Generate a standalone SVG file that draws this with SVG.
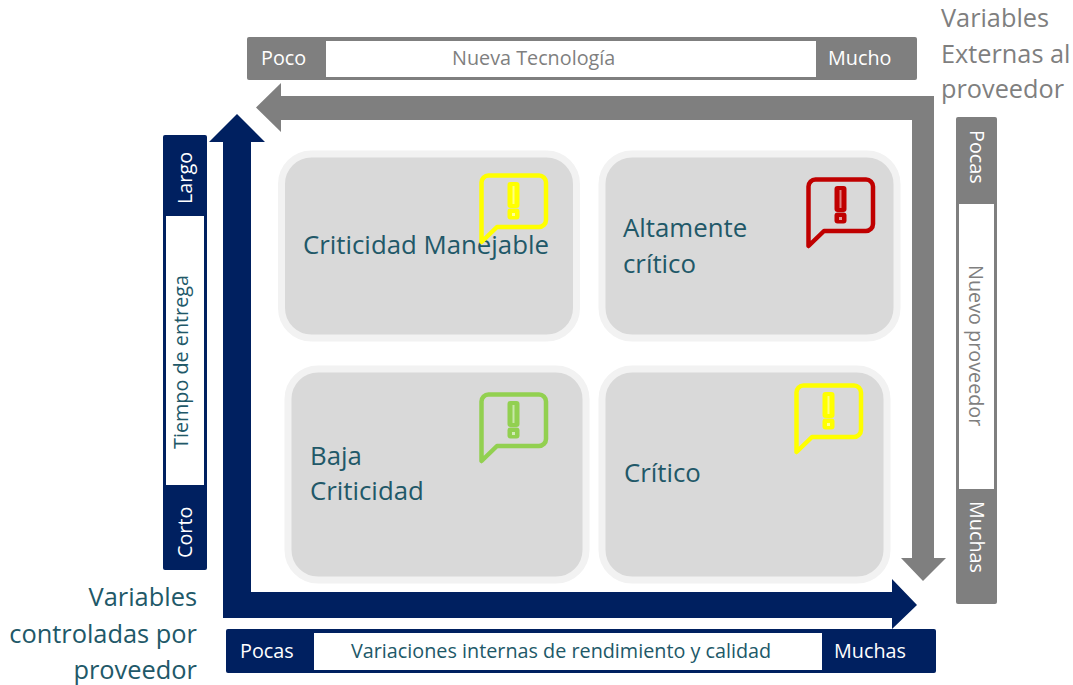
<svg xmlns="http://www.w3.org/2000/svg" width="1073" height="685" viewBox="0 0 1073 685">
<style>
text{font-family:"Open Sans","Noto Sans","Liberation Sans",sans-serif}
.navy{fill:#002060}
.gray{fill:#7f7f7f}
.white{fill:#fff}
.lab{fill:#fff;font-size:19.800px}
.dark{fill:#7f7f7f;font-size:19.800px}
.teal{fill:#215868;font-size:19.800px}
.big{font-size:25.800px;fill:#215868}
.bigl{font-size:25.400px;fill:#215868}
.biggray{font-size:25.300px;fill:#7f7f7f}
.card{fill:#d9d9d9;stroke:#f2f2f2;stroke-width:7}
.ib{fill:none;stroke:currentColor;stroke-width:4.500;stroke-linejoin:round}
.ic{fill:currentColor}
</style>
<defs>
<g id="bubble">
<path class="ib" d="M489 175.500H539a7 7 0 0 1 7 7V220a7 7 0 0 1-7 7H497L481.500 242V182.500a7 7 0 0 1 7-7Z"/>
<rect class="ic" x="507.500" y="182" width="12" height="26" rx="3"/>
<rect class="ic" x="507.500" y="208.500" width="12" height="11" rx="3"/>
<rect x="512.500" y="186" width="2" height="18" fill="#fff" opacity=".5"/>
<rect x="512" y="213" width="3" height="3" fill="#fff" opacity=".6"/>
</g>
</defs>
<g id="connectors">
<path class="gray" d="M256 107.500L281 83V96H934V558H946L923 581L901 558H912V120H281V132Z"/>
<path class="navy" d="M237 114L265 142H251V592H892V579L917 605L892 629V618H223V142H209Z"/>
</g>
<g id="card-manejable"><rect class="card" x="281.500" y="154" width="295" height="184" rx="30"/><text class="big" x="303" y="254">Criticidad Manejable</text><use href="#bubble" style="color:#ffff00"/></g>
<g id="card-altamente"><rect class="card" x="602" y="154" width="295" height="184" rx="30"/><text class="big" x="623" y="237">Altamente</text><text class="big" x="623" y="273">crítico</text><use href="#bubble" x="327" y="4" style="color:#c00000"/></g>
<g id="card-baja"><rect class="card" x="288" y="369" width="298" height="211" rx="30"/><text class="big" x="310" y="465">Baja</text><text class="big" x="310" y="500">Criticidad</text><use href="#bubble" y="219" style="color:#92d050"/></g>
<g id="card-critico"><rect class="card" x="602" y="369" width="285" height="211" rx="30"/><text class="big" x="624" y="482">Crítico</text><use href="#bubble" x="315" y="210" style="color:#ffff00"/></g>
<g id="bar-top"><rect class="gray" x="247" y="37" width="670" height="43" rx="2"/><rect class="white" x="326" y="41" width="490" height="36"/><text class="lab" x="261" y="65">Poco</text><text class="dark" x="452" y="65">Nueva Tecnología</text><text class="lab" x="828" y="65">Mucho</text></g>
<g id="bar-left"><rect class="navy" x="163" y="135" width="44" height="435" rx="2"/><rect class="white" x="166" y="216" width="38" height="269"/><text class="lab" transform="translate(192 204) rotate(-90)">Largo</text><text class="teal" transform="translate(188 449) rotate(-90)">Tiempo de entrega</text><text class="lab" transform="translate(192 558) rotate(-90)">Corto</text></g>
<g id="bar-bottom"><rect class="navy" x="226" y="629" width="710" height="44" rx="2"/><rect class="white" x="314" y="633" width="508" height="37"/><text class="lab" x="240" y="658">Pocas</text><text class="teal" x="351" y="658">Variaciones internas de rendimiento y calidad</text><text class="lab" x="834" y="658">Muchas</text></g>
<g id="bar-right"><rect class="gray" x="956" y="117" width="41" height="487" rx="2"/><rect class="white" x="959" y="204" width="35" height="285"/><text class="lab" transform="translate(970 130) rotate(90)">Pocas</text><text class="dark" transform="translate(969 265) rotate(90)">Nuevo proveedor</text><text class="lab" transform="translate(970 501) rotate(90)">Muchas</text></g>
<g id="label-externas"><text class="biggray" x="941" y="27">Variables</text><text class="biggray" x="941" y="63">Externas al</text><text class="biggray" x="941" y="98">proveedor</text></g>
<g id="label-controladas"><text class="bigl" x="197" y="606" text-anchor="end">Variables</text><text class="bigl" x="197" y="643" text-anchor="end">controladas por</text><text class="bigl" x="197" y="679" text-anchor="end">proveedor</text></g>
</svg>
